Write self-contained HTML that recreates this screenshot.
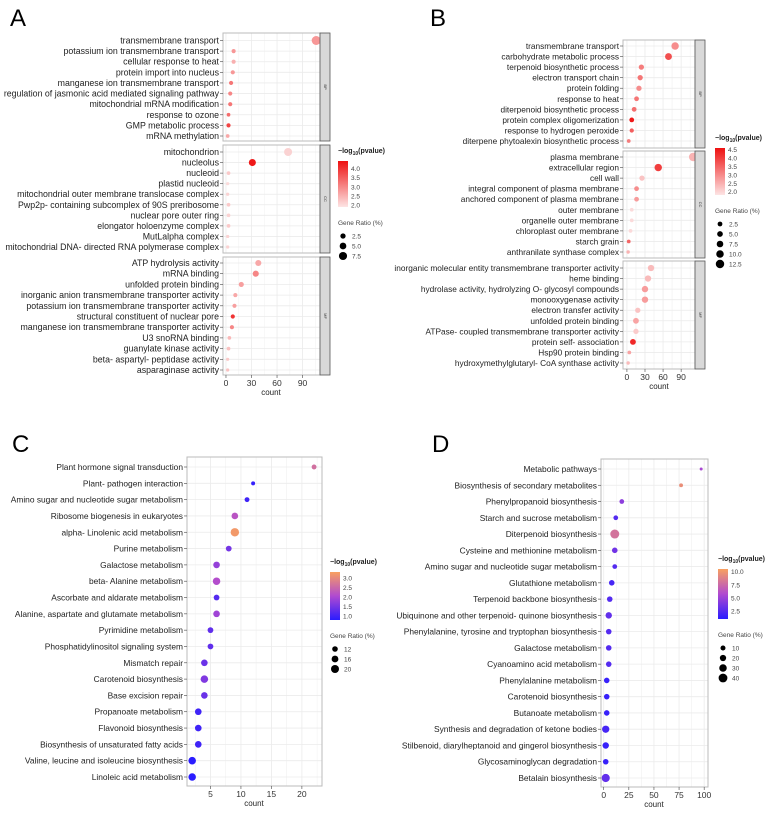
<!DOCTYPE html>
<html><head><meta charset="utf-8"><style>
body{margin:0;background:#fff;}
svg{display:block;font-family:"Liberation Sans",Arial,sans-serif;}
</style></head><body>
<svg id="fig" width="778" height="815" viewBox="0 0 778 815">
<defs>
<linearGradient id="gRed" x1="0" y1="1" x2="0" y2="0"><stop offset="0" stop-color="#fde4e4"/><stop offset="1" stop-color="#ee1111"/></linearGradient>
<linearGradient id="gBO" x1="0" y1="1" x2="0" y2="0"><stop offset="0" stop-color="#2a1cff"/><stop offset="0.5" stop-color="#b04ad0"/><stop offset="1" stop-color="#f8a060"/></linearGradient>
</defs>
</svg>
<script>
// ---------- Panel A data ----------
const aBpTerms=["transmembrane transport","potassium ion transmembrane transport","cellular response to heat","protein import into nucleus","manganese ion transmembrane transport","regulation of jasmonic acid mediated signaling pathway","mitochondrial mRNA modification","response to ozone","GMP metabolic process","mRNA methylation"];
const aBpCount=[106,9,9,8,6,5,5,3,3,2];
const aBpP=[2.8,2.8,2.5,2.8,3.2,3.0,3.2,3.3,3.8,2.6];
const aBpRatio=[8,3,3,3,3,3,3,2.5,3,2.5];
const aCcTerms=["mitochondrion","nucleolus","nucleoid","plastid nucleoid","mitochondrial outer membrane translocase complex","Pwp2p- containing subcomplex of 90S preribosome","nuclear pore outer ring","elongator holoenzyme complex","MutLalpha complex","mitochondrial DNA- directed RNA polymerase complex"];
const aCcCount=[73,31,3,2,2,3,3,3,2,2];
const aCcP=[2.1,4.3,2.2,2.0,2.1,2.2,2.1,2.2,2.1,2.1];
const aCcRatio=[7,6,2.5,2,2,2.5,2.5,2.5,2,2];
const aMfTerms=["ATP hydrolysis activity","mRNA binding","unfolded protein binding","inorganic anion transmembrane transporter activity","potassium ion transmembrane transporter activity","structural constituent of nuclear pore","manganese ion transmembrane transporter activity","U3 snoRNA binding","guanylate kinase activity","beta- aspartyl- peptidase activity","asparaginase activity"];
const aMfCount=[38,35,18,11,10,8,7,4,3,2,2];
const aMfP=[2.6,3.0,2.7,2.6,2.7,4.0,3.0,2.4,2.3,2.2,2.3];
const aMfRatio=[5,5,4,3,3,3,3,2.5,2.5,2,2];
// ---------- Panel B data ----------
const bBpTerms=["transmembrane transport","carbohydrate metabolic process","terpenoid biosynthetic process","electron transport chain","protein folding","response to heat","diterpenoid biosynthetic process","protein complex oligomerization","response to hydrogen peroxide","diterpene phytoalexin biosynthetic process"];
const bBpCount=[80,69,24,22,20,16,12,8,8,3];
const bBpP=[3.0,3.8,3.2,3.3,3.0,3.3,3.4,4.5,3.6,3.2];
const bBpRatio=[10,9,6,6,6,5,5,5,4,3];
const bCcTerms=["plasma membrane","extracellular region","cell wall","integral component of plasma membrane","anchored component of plasma membrane","outer membrane","organelle outer membrane","chloroplast outer membrane","starch grain","anthranilate synthase complex"];
const bCcCount=[110,52,25,16,16,8,8,6,3,2];
const bCcP=[2.5,4.0,2.3,3.0,2.8,2.0,2.0,2.0,3.5,2.5];
const bCcRatio=[12,10,6,5,5,3,3,3,3,2.5];
const bMfTerms=["inorganic molecular entity transmembrane transporter activity","heme binding","hydrolase activity, hydrolyzing O- glycosyl compounds","monooxygenase activity","electron transfer activity","unfolded protein binding","ATPase- coupled transmembrane transporter activity","protein self- association","Hsp90 protein binding","hydroxymethylglutaryl- CoA synthase activity"];
const bMfCount=[40,35,30,30,18,15,15,10,4,2];
const bMfP=[2.4,2.4,2.8,2.8,2.3,2.7,2.2,4.3,2.7,2.4];
const bMfRatio=[8,8,8,8,6,7,6,7,3,2.5];
// ---------- Panel C data ----------
const cTerms=["Plant hormone signal transduction","Plant- pathogen interaction","Amino sugar and nucleotide sugar metabolism","Ribosome biogenesis in eukaryotes","alpha- Linolenic acid metabolism","Purine metabolism","Galactose metabolism","beta- Alanine metabolism","Ascorbate and aldarate metabolism","Alanine, aspartate and glutamate metabolism","Pyrimidine metabolism","Phosphatidylinositol signaling system","Mismatch repair","Carotenoid biosynthesis","Base excision repair","Propanoate metabolism","Flavonoid biosynthesis","Biosynthesis of unsaturated fatty acids","Valine, leucine and isoleucine biosynthesis","Linoleic acid metabolism"];
const cCount=[22,12,11,9,9,8,6,6,6,6,5,5,4,4,4,3,3,3,2,2];
const cP=[2.6,0.9,1.0,2.2,3.2,1.5,1.8,2.1,1.2,1.9,1.3,1.3,1.4,1.6,1.4,1.0,1.0,1.0,0.8,0.8];
const cRatio=[12,10,12,16,20,14,16,18,14,16,14,14,16,18,16,16,16,16,18,18];
// ---------- Panel D data ----------
const dTerms=["Metabolic pathways","Biosynthesis of secondary metabolites","Phenylpropanoid biosynthesis","Starch and sucrose metabolism","Diterpenoid biosynthesis","Cysteine and methionine metabolism","Amino sugar and nucleotide sugar metabolism","Glutathione metabolism","Terpenoid backbone biosynthesis","Ubiquinone and other terpenoid- quinone biosynthesis","Phenylalanine, tyrosine and tryptophan biosynthesis","Galactose metabolism","Cyanoamino acid metabolism","Phenylalanine metabolism","Carotenoid biosynthesis","Butanoate metabolism","Synthesis and degradation of ketone bodies","Stilbenoid, diarylheptanoid and gingerol biosynthesis","Glycosaminoglycan degradation","Betalain biosynthesis"];
const dCount=[97,77,18,12,11,11,11,8,6,5,5,5,5,3,3,3,2,2,2,2];
const dP=[5.5,9.5,4.5,2.5,8,3.5,2.5,2,2.5,3,2.5,2.5,2.5,1.5,1.5,1.5,2,1.5,1.5,3];
const dRatio=[5,10,15,15,40,20,15,20,20,25,20,20,20,20,20,20,30,25,20,35];
// ---------- tick labels ----------
const abTicks=[0,30,60,90];
const cTicks=[5,10,15,20];
const dTicks=[0,25,50,75,100];
const aColorTicks=[2.0,2.5,3.0,3.5,4.0];
const bColorTicks=[2.0,2.5,3.0,3.5,4.0,4.5];
const cColorTicks=[1.0,1.5,2.0,2.5,3.0];
const dColorTicks=[2.5,5.0,7.5,10.0];
const aSizeTicks=[2.5,5.0,7.5];
const bSizeTicks=[2.5,5.0,7.5,10.0,12.5];
const cSizeTicks=[12,16,20];
const dSizeTicks=[10,20,30,40];

const NS="http://www.w3.org/2000/svg";
const svg=document.getElementById('fig');
function mk(tag,attrs,parent,txt){const e=document.createElementNS(NS,tag);for(const k in attrs)e.setAttribute(k,attrs[k]);if(txt!==undefined)e.textContent=txt;(parent||svg).appendChild(e);return e;}
function hex(c){return [parseInt(c.slice(1,3),16),parseInt(c.slice(3,5),16),parseInt(c.slice(5,7),16)];}
function lerpCol(stops,t){t=Math.max(0,Math.min(1,t));const n=stops.length-1;const i=Math.min(n-1,Math.floor(t*n));const f=t*n-i;const a=hex(stops[i]),b=hex(stops[i+1]);return 'rgb('+a.map((v,k)=>Math.round(v+(b[k]-v)*f)).join(',')+')';}
const redStops=["#fbdada","#ee1111"], boStops=["#2a1cff","#b04ad0","#f8a060"];

function panelLetter(t,x,y){const e=mk('text',{x:x,y:y,'font-size':24,fill:'#000'},svg,t);

}

function drawFacet(g,o){
  const xs=v=>o.x0+(v-o.dmin)*(o.x1-o.x0)/(o.dmax-o.dmin);
  const n=o.terms.length;
  const step=(o.lastY-o.firstY)/(n-1);
  const ys=i=>o.firstY+i*step;
  mk('rect',{x:o.x0,y:o.top,width:o.x1-o.x0,height:o.bottom-o.top,fill:'#fff'},g);
  for(let i=0;i<o.ticks.length;i++){const t=o.ticks[i];const m=t-(o.ticks[1]-o.ticks[0])/2;[m,t+(o.ticks[1]-o.ticks[0])/2].forEach(v=>{const X=xs(v);if(X>o.x0&&X<o.x1)mk('line',{x1:X,x2:X,y1:o.top,y2:o.bottom,stroke:'#f3f3f3','stroke-width':0.6},g);});}
  for(let i=0;i<n;i++){const Y=ys(i);mk('line',{x1:o.x0,x2:o.x1,y1:Y,y2:Y,stroke:'#ebebeb','stroke-width':0.8},g);}
  o.ticks.forEach(t=>{const X=xs(t);mk('line',{x1:X,x2:X,y1:o.top,y2:o.bottom,stroke:'#ebebeb','stroke-width':0.8},g);});
  mk('rect',{x:o.x0,y:o.top,width:o.x1-o.x0,height:o.bottom-o.top,fill:'none',stroke:'#bbbbbb','stroke-width':1},g);
  for(let i=0;i<n;i++){
    const Y=ys(i);
    mk('line',{x1:o.x0-3,x2:o.x0,y1:Y,y2:Y,stroke:'#444','stroke-width':0.6},g);
    const lab=mk('text',{x:o.x0-4,y:Y+3,'font-size':o.fs,'text-anchor':'end',fill:'#222'},g,o.terms[i]);
    
    
    const r=o.rmin+(o.ratio[i]-o.smin)/(o.smax-o.smin)*(o.rmax-o.rmin);
    const c=mk('circle',{cx:xs(o.count[i]),cy:Y,r:Math.max(1.2,r),fill:lerpCol(o.stops,(o.p[i]-o.cmin)/(o.cmax-o.cmin))},g);
    
    
  }
  if(o.strip){
    mk('rect',{x:o.x1,y:o.top,width:10,height:o.bottom-o.top,fill:'#d9d9d9',stroke:'#555','stroke-width':0.8},g);
    const st=mk('text',{x:0,y:0,'font-size':4,fill:'#333','text-anchor':'middle',transform:'translate('+(o.x1+4)+','+((o.top+o.bottom)/2)+') rotate(90)'},g,o.strip);
    
    
  }
  return xs;
}
function xAxis(g,xs,ticks,y,cx,fs){
  ticks.forEach(t=>{const X=xs(t);mk('line',{x1:X,x2:X,y1:y,y2:y+3,stroke:'#444','stroke-width':0.6},g);
    const e=mk('text',{x:X,y:y+11,'font-size':fs,'text-anchor':'middle',fill:'#333'},g,String(t));
    
    });
  const tt=mk('text',{x:cx,y:y+20,'font-size':fs-0.5,'text-anchor':'middle',fill:'#222'},g,'count');
  
  
}
function legend(g,o){
  const t=mk('text',{x:o.x,y:o.y,'font-size':7,'font-weight':'bold',fill:'#222'},g);
  mk('tspan',{},t,'\u2212log');mk('tspan',{'font-size':5,dy:2},t,'10');mk('tspan',{dy:-2},t,'(pvalue)');
  
  
  const bt=o.y+8,bh=o.bh;
  const bar=mk('rect',{x:o.x,y:bt,width:10,height:bh,fill:'url(#'+o.grad+')'},g);
  
  
  o.cticks.forEach(v=>{const Y=bt+bh-(v-o.cmin)/(o.cmax-o.cmin)*bh;
    const e=mk('text',{x:o.x+13,y:Y+2.5,'font-size':6.5,fill:'#444'},g,v.toFixed(1));
    
    });
  const sy=bt+bh+18;
  const st=mk('text',{x:o.x,y:sy,'font-size':6.5,fill:'#444'},g,'Gene Ratio (%)');
  
  
  o.sticks.forEach((v,i)=>{const Y=sy+11+i*10;const r=o.rmin+(v-o.smin)/(o.smax-o.smin)*(o.rmax-o.rmin);
    const c=mk('circle',{cx:o.x+5,cy:Y,r:r,fill:'#000'},g);
    
    
    const e=mk('text',{x:o.x+14,y:Y+2.5,'font-size':6.5,fill:'#444'},g,o.fmt?v.toFixed(1):String(v));
    
    });
}

// ---------- Panel A ----------
panelLetter('A',10,26);
const gA=mk('g',{});


const aBase={x0:223,x1:320,dmin:-3.5,dmax:110.5,ticks:abTicks,fs:8.8,stops:redStops,cmin:2.0,cmax:4.4,smin:2,smax:8,rmin:1.6,rmax:4.5};
let xsA=drawFacet(gA,Object.assign({},aBase,{top:33,bottom:141,firstY:40.5,lastY:136,terms:aBpTerms,count:aBpCount,p:aBpP,ratio:aBpRatio,strip:'BP'}));
drawFacet(gA,Object.assign({},aBase,{top:145,bottom:253,firstY:152,lastY:247,terms:aCcTerms,count:aCcCount,p:aCcP,ratio:aCcRatio,strip:'CC'}));
drawFacet(gA,Object.assign({},aBase,{top:257,bottom:375,firstY:263,lastY:370,terms:aMfTerms,count:aMfCount,p:aMfP,ratio:aMfRatio,strip:'MF'}));
xAxis(gA,xsA,abTicks,375,271,8.5);
legend(gA,{x:338,y:153,bh:46,grad:'gRed',cticks:aColorTicks,cmin:1.9,cmax:4.4,sticks:aSizeTicks,smin:2,smax:8,rmin:2.5,rmax:4.2,fmt:true});

// ---------- Panel B ----------
panelLetter('B',430,26);
const gB=mk('g',{});


const bBase={x0:623,x1:695,dmin:-6.5,dmax:113,ticks:abTicks,fs:8.3,stops:redStops,cmin:2.0,cmax:4.6,smin:2,smax:13,rmin:1.6,rmax:4.5};
let xsB=drawFacet(gB,Object.assign({},bBase,{top:40,bottom:148,firstY:46,lastY:141,terms:bBpTerms,count:bBpCount,p:bBpP,ratio:bBpRatio,strip:'BP'}));
drawFacet(gB,Object.assign({},bBase,{top:151,bottom:258,firstY:157,lastY:252,terms:bCcTerms,count:bCcCount,p:bCcP,ratio:bCcRatio,strip:'CC'}));
drawFacet(gB,Object.assign({},bBase,{top:261,bottom:369,firstY:268,lastY:363,terms:bMfTerms,count:bMfCount,p:bMfP,ratio:bMfRatio,strip:'MF'}));
xAxis(gB,xsB,abTicks,369,659,8.5);
legend(gB,{x:715,y:140,bh:47,grad:'gRed',cticks:bColorTicks,cmin:1.8,cmax:4.6,sticks:bSizeTicks,smin:2,smax:13,rmin:2.3,rmax:4.3,fmt:true});

// ---------- Panel C ----------
panelLetter('C',12,452);
const gC=mk('g',{});


let xsC=drawFacet(gC,{x0:187,x1:322,dmin:1.15,dmax:23.3,ticks:cTicks,fs:8.4,stops:boStops,cmin:0.8,cmax:3.3,smin:10,smax:20,rmin:2,rmax:4.2,top:457,bottom:786,firstY:467,lastY:777,terms:cTerms,count:cCount,p:cP,ratio:cRatio});
xAxis(gC,xsC,cTicks,786,254,8.5);
legend(gC,{x:330,y:564,bh:48,grad:'gBO',cticks:cColorTicks,cmin:0.8,cmax:3.3,sticks:cSizeTicks,smin:10,smax:20,rmin:2.5,rmax:4,fmt:false});

// ---------- Panel D ----------
panelLetter('D',432,452);
const gD=mk('g',{});


let xsD=drawFacet(gD,{x0:601,x1:708,dmin:-2.7,dmax:103.8,ticks:dTicks,fs:8.4,stops:boStops,cmin:1.0,cmax:10.5,smin:5,smax:40,rmin:1.5,rmax:4.5,top:459,bottom:787,firstY:469,lastY:778,terms:dTerms,count:dCount,p:dP,ratio:dRatio});
xAxis(gD,xsD,dTicks,787,654,8.5);
legend(gD,{x:718,y:561,bh:50,grad:'gBO',cticks:dColorTicks,cmin:1.0,cmax:10.5,sticks:dSizeTicks,smin:5,smax:40,rmin:2.2,rmax:4.4,fmt:false});
</script>
</body></html>
